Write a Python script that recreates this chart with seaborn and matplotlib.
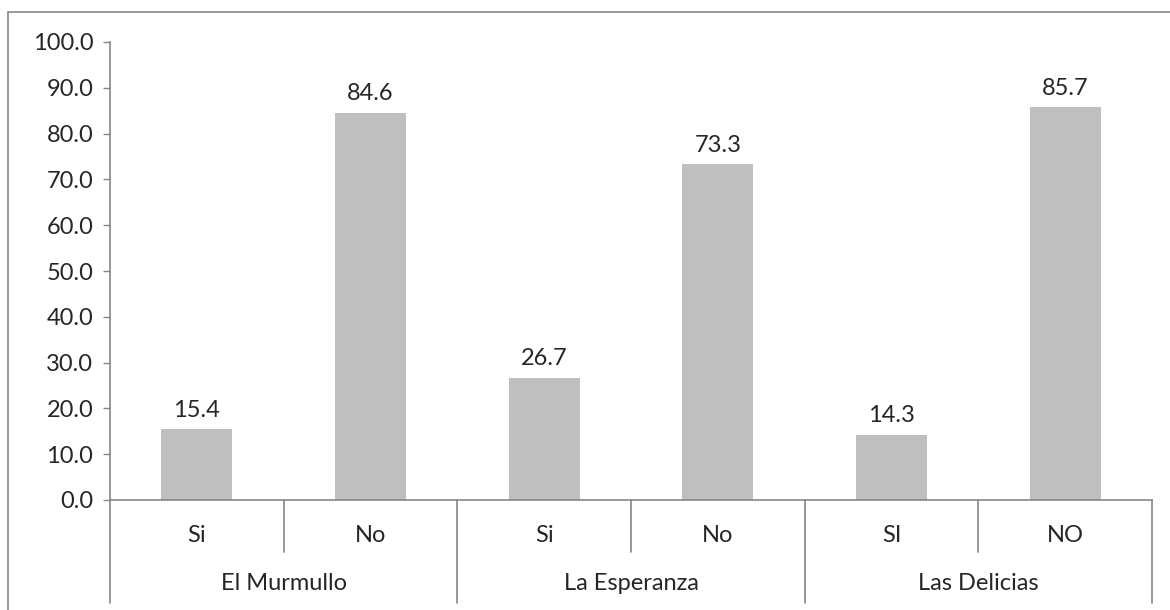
import pandas as pd
import seaborn as sns
import matplotlib
matplotlib.use('Agg')
import matplotlib.pyplot as plt
from matplotlib.lines import Line2D

# Data
groups = ["El Murmullo", "El Murmullo", "La Esperanza", "La Esperanza", "Las Delicias", "Las Delicias"]
answers = ["Si", "No", "Si", "No", "SI", "NO"]
values = [15.4, 84.6, 26.7, 73.3, 14.3, 85.7]
group_names = ["El Murmullo", "La Esperanza", "Las Delicias"]

data = pd.DataFrame({"group": groups, "answer": answers, "value": values})
data["slot"] = [f"{g}|{a}" for g, a in zip(groups, answers)]

sns.set_style("white")
plt.rcParams['font.family'] = ['Lato', 'DejaVu Sans']
FS = 17

fig = plt.figure(figsize=(11.7, 6.1), dpi=100)
W, H = 1170, 610
ax = fig.add_axes([110 / W, 1 - 500 / H, (1152 - 110) / W, (500 - 42) / H])

sns.barplot(data=data, x="slot", y="value", color="#BFBFBF", saturation=1,
            width=0.41, ax=ax, linewidth=0)

ax.set_xlim(-0.5, len(values) - 0.5)
ax.set_ylim(0, 100)
ax.set_yticks(range(0, 101, 10))
ax.set_yticklabels([f"{v:.1f}" for v in range(0, 101, 10)], fontsize=FS)
ax.tick_params(axis="y", length=5, width=1, color="#868686", pad=7, left=True)
ax.set_xticks([])
ax.set_xlabel("")
ax.set_ylabel("")
for s in ["top", "right"]:
    ax.spines[s].set_visible(False)
for s in ["left", "bottom"]:
    ax.spines[s].set_color("#868686")
    ax.spines[s].set_linewidth(1.2)

# value labels
for p, v in zip(ax.patches, values):
    ax.annotate(f"{v:.1f}", (p.get_x() + p.get_width() / 2, p.get_height()),
                xytext=(0, 6), textcoords="offset points",
                ha="center", va="bottom", fontsize=FS)

# two-level category axis
trans = ax.get_xaxis_transform()
inner_depth = -52 / 458
outer_depth = -103 / 458
for i, a in enumerate(answers):
    ax.text(i, -35 / 458, a, transform=trans, ha="center", va="center", fontsize=FS)
for i in range(len(values) + 1):
    x = i - 0.5
    depth = outer_depth if i % 2 == 0 else inner_depth
    ax.add_line(Line2D([x, x], [0, depth], transform=trans, color="#868686",
                       lw=1.2, clip_on=False))
for j, g in enumerate(group_names):
    ax.text(2 * j + 0.5, -83 / 458, g, transform=trans, ha="center", va="center", fontsize=FS)

# chart area border (Excel-like)
fig.add_artist(Line2D([8 / W, 1], [1 - 12 / H, 1 - 12 / H], transform=fig.transFigure,
                      color="#868686", lw=1.2))
fig.add_artist(Line2D([8 / W, 8 / W], [1 - 12 / H, 0], transform=fig.transFigure,
                      color="#868686", lw=1.2))

fig.savefig("out.png", dpi=100)
